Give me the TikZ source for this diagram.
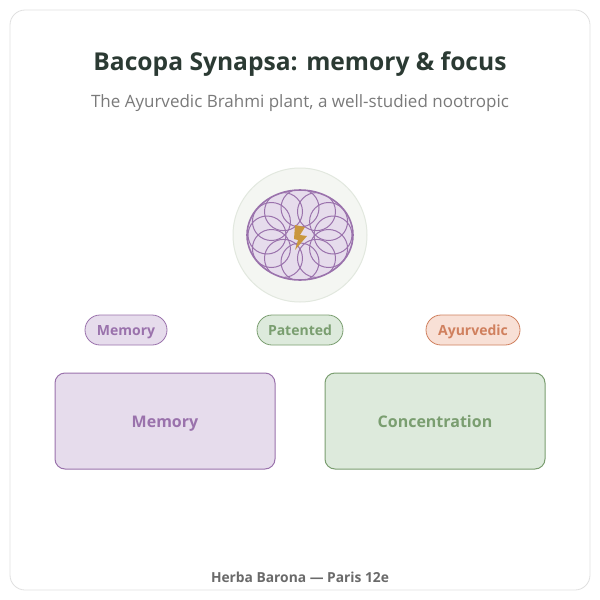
\documentclass[tikz,border=0pt]{standalone}
\usepackage{fontspec}
\setmainfont{Open Sans}
\begin{document}
\begin{tikzpicture}[x=1pt,y=-1pt,
  pill/.style={draw, rounded corners=15pt, line width=0.8pt, minimum height=30pt, text height=10pt, text depth=0pt, font=\bfseries\fontsize{14}{16}\selectfont},
  box/.style={draw, rounded corners=10pt, line width=1pt, minimum width=220pt, minimum height=96pt, text height=12pt, text depth=0pt, font=\bfseries\fontsize{16}{19}\selectfont}]
\definecolor{pur}{HTML}{9A72AC}\definecolor{purf}{HTML}{E6DCEC}
\definecolor{grn}{HTML}{7A9E70}\definecolor{grnf}{HTML}{DDEADC}
\definecolor{org}{HTML}{D0805E}\definecolor{orgf}{HTML}{F8E0D6}
\definecolor{bgf}{HTML}{F4F6F2}\definecolor{bgd}{HTML}{E2E8DF}
\definecolor{gold}{HTML}{C9973E}\definecolor{ttl}{HTML}{2B3A33}
\definecolor{subc}{HTML}{7A7A7A}\definecolor{ftc}{HTML}{6A6A6A}
\useasboundingbox (0,0) rectangle (600,600);
\fill[white] (0,0) rectangle (600,600);
\draw[black!12, rounded corners=15pt, line width=0.8pt] (10,10) rectangle (590,590);
\node[text=ttl, font=\bfseries\fontsize{24.6}{28}\selectfont] (title) at (300,64) {Bacopa Synapsa: memory \& focus};
\node[text=subc, font=\fontsize{17}{20}\selectfont] (sub) at (300,103) {The Ayurvedic Brahmi plant, a well-studied nootropic};
\node[circle, minimum size=134pt, fill=bgf, draw=bgd, line width=1pt] (bg) at (300,235) {};
\fill[purf] (300,235) ellipse [x radius=53, y radius=45];
\begin{scope}
\clip (300,235) ellipse [x radius=53, y radius=45];
\foreach \a in {0,30,...,330}
  \draw[pur, line width=1pt] (300,235) ++(\a:33 and 27) circle (19);
\end{scope}
\draw[pur, line width=1.6pt] (300,235) ellipse [x radius=53, y radius=45];
\fill[gold] (295,225) -- (305,227) -- (300,235) -- (307,236) -- (295,250) -- (298,240) -- (294,239) -- cycle;
\node[pill, draw=pur, fill=purf, text=pur, minimum width=82pt] (p1) at (126,330) {Memory};
\node[pill, draw=grn, fill=grnf, text=grn, minimum width=86pt] (p2) at (300,330) {Patented};
\node[pill, draw=org, fill=orgf, text=org, minimum width=94pt] (p3) at (473,330) {Ayurvedic};
\node[box, draw=pur, fill=purf, text=pur] (b1) at (165,421) {Memory};
\node[box, draw=grn, fill=grnf, text=grn] (b2) at (435,421) {Concentration};
\node[text=ftc, font=\bfseries\fontsize{13.8}{16}\selectfont] (foot) at (300,577) {Herba Barona — Paris 12e};
\end{tikzpicture}
\end{document}
